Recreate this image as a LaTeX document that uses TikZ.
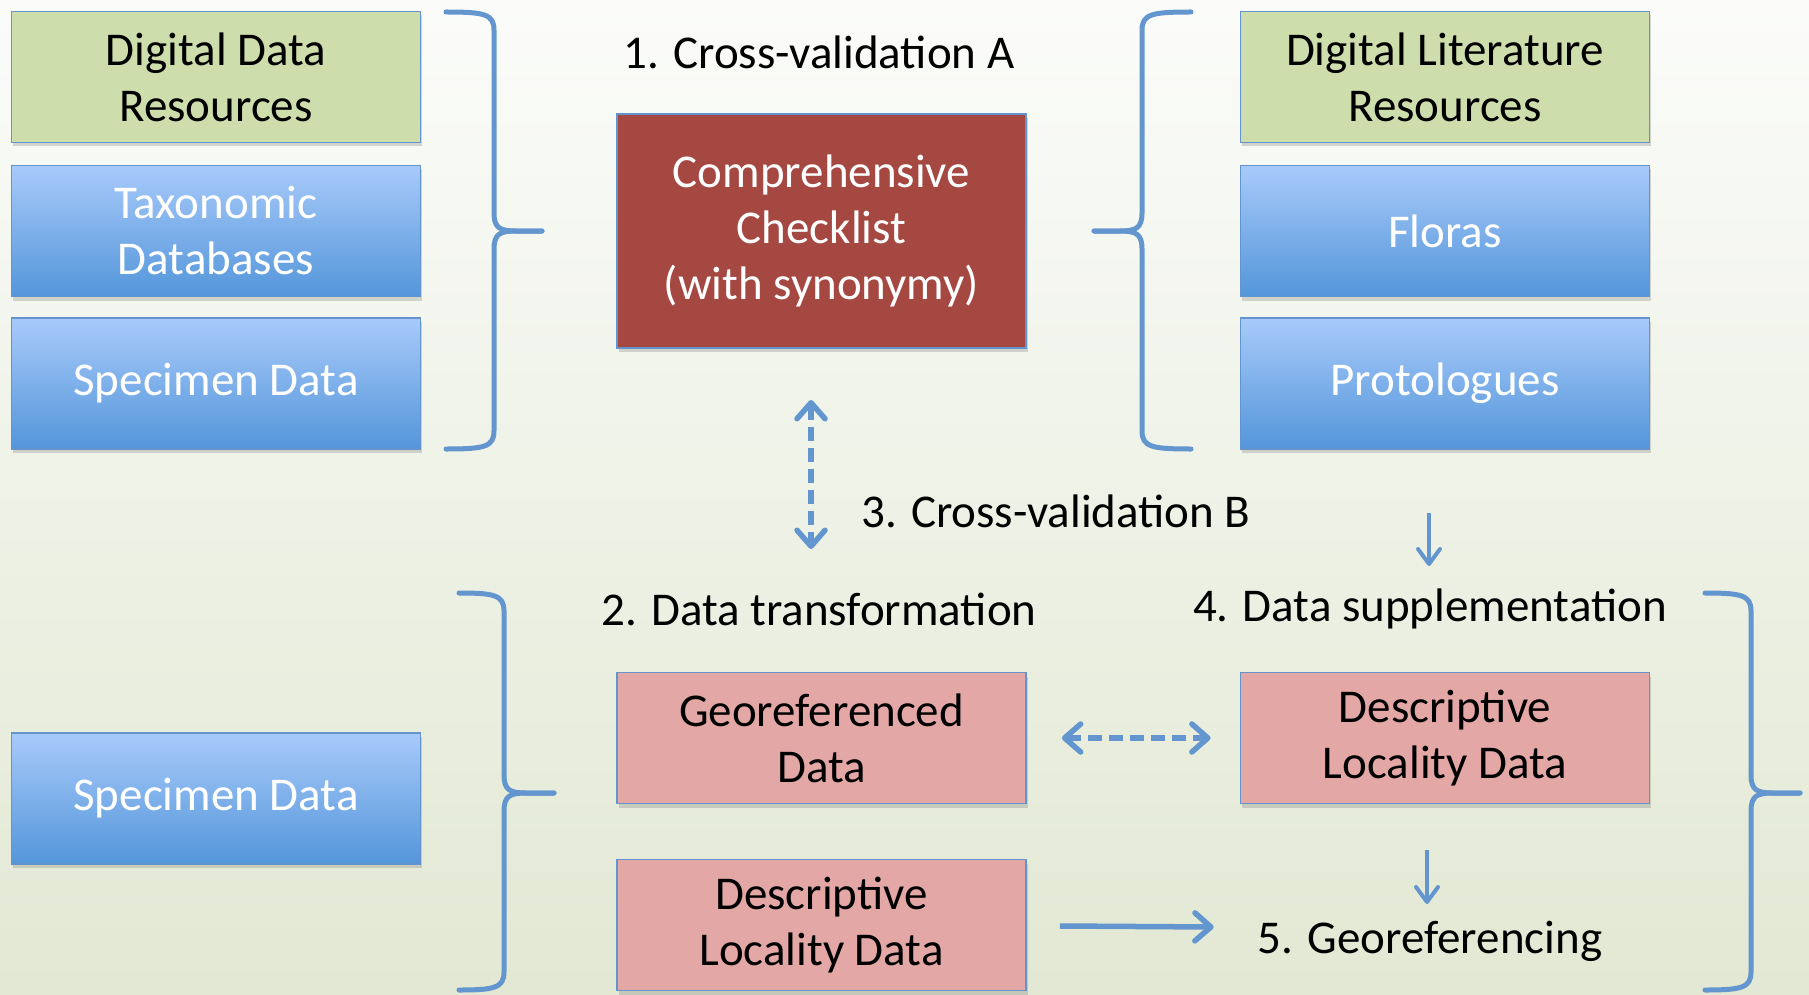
\documentclass[tikz,border=0pt]{standalone}
\usepackage{fontspec}
\setmainfont{Carlito}
\usetikzlibrary{arrows.meta,shadows,calc}
\definecolor{bluetop}{RGB}{168,202,250}
\definecolor{bluebot}{RGB}{84,150,218}
\definecolor{edgec}{RGB}{100,148,206}
\definecolor{greenfill}{RGB}{206,221,172}
\definecolor{redfill}{RGB}{166,72,66}
\definecolor{pinkfill}{RGB}{227,167,166}
\definecolor{bgtop}{RGB}{251,252,250}
\definecolor{bgbot}{RGB}{226,232,211}
\definecolor{linec}{RGB}{99,150,206}
\newcommand\mybrace[7]{%
 \draw[brc] (#1,#4) .. controls (#2-10*#7,#4) and (#2,#4+2) .. (#2,#4+18)
   -- (#2,#5-18) .. controls (#2,#5-3) and (#2+6*#7,#5) .. (#2+22*#7,#5) -- (#3,#5);
 \draw[brc] (#3,#5) -- (#2+22*#7,#5) .. controls (#2+6*#7,#5) and (#2,#5+3) .. (#2,#5+18)
   -- (#2,#6-18) .. controls (#2,#6-2) and (#2-10*#7,#6) .. (#1,#6);
}
\tikzset{
  mybarb/.tip={Straight Barb[length=16pt,width=28pt,line width=5.5pt,line cap=round,line join=round]},
  mythin/.tip={Straight Barb[length=15pt,width=22pt,line width=4pt,line cap=round,line join=round]}
}
\begin{document}
\begin{tikzpicture}[x=1pt,y=-1pt,
  txt/.style={font=\fontsize{47}{56}\selectfont, inner sep=0pt},
  box/.style={txt, draw=edgec, line width=1.8pt, minimum width=409pt, minimum height=131pt,
     align=center, drop shadow={shadow xshift=1.5pt, shadow yshift=-4pt, opacity=0.3}},
  greenbox/.style={box, fill=greenfill, text=black},
  bluebox/.style={box, top color=bluetop, bottom color=bluebot, text=white},
  redbox/.style={box, fill=redfill, text=white, minimum height=234pt},
  pinkbox/.style={box, fill=pinkfill, text=black},
  brc/.style={draw=linec, line width=5pt, line cap=round, line join=round},
  conn/.style={draw=linec, line width=5.5pt},
  dasharr/.style={conn, dash pattern=on 14pt off 7pt, mybarb-mybarb},
  thinarr/.style={draw=linec, line width=4pt, -mythin},
  solidarr/.style={conn, -mybarb}
]
\useasboundingbox (0,0) rectangle (1809,995);
\shade[top color=bgtop, bottom color=bgbot] (0,0) rectangle (1809,995);

% top left column
\node[greenbox] (dd) at (216,77) {Digital Data\\Resources};
\node[bluebox] (tax) at (216,231) {Taxonomic\\Databases};
\node[bluebox] (spec1) at (216,383.5) {Specimen Data};
% checklist
\node[txt] (cva) at (819,52) {1. Cross-validation A};
\node[redbox] (chk) at (821.5,231) {Comprehensive\\Checklist\\(with synonymy)};
% top right column
\node[greenbox] (dl) at (1445,77) {Digital Literature\\Resources};
\node[bluebox] (flo) at (1445,231) {Floras};
\node[bluebox] (pro) at (1445,383.5) {Protologues};
% lower part
\node[txt, anchor=west] (cvb) at (861,511) {3. Cross-validation B};
\node[txt] (dt) at (819,609) {2. Data transformation};
\node[txt] (ds) at (1430,609) {4. Data supplementation};
\node[bluebox] (spec2) at (216,798.5) {Specimen Data};
\node[pinkbox] (geo) at (821.5,738) {Georeferenced\\Data};
\node[pinkbox] (desc1) at (821.5,925) {Descriptive\\Locality Data};
\node[pinkbox] (desc2) at (1445,738) {Descriptive\\Locality Data};
\node[txt] (gr) at (1430,941) {5. Georeferencing};

% braces
\mybrace{446}{494}{542}{12}{231}{449}{1}
\mybrace{1191}{1142}{1094}{12}{231}{449}{-1}
\mybrace{459}{504}{554}{593}{793}{990}{1}
\mybrace{1705}{1751}{1800}{593}{793}{990}{1}

% connectors
\coordinate (va) at (811,400);
\coordinate (vb) at (811,549);
\draw[dasharr] (va) -- (vb);
\coordinate (pa) at (1429,513);
\coordinate (pb) at (1429,566);
\draw[thinarr] (pa) -- (pb);
\draw[dasharr] (geo.east) ++(35,0) coordinate (ha) -- ($(desc2.west)+(-29,0)$) coordinate (hb);
\coordinate (da) at (1427,850);
\coordinate (db) at (1427,904);
\draw[thinarr] (da) -- (db);
\draw[solidarr] ($(desc1.east)+(33,1)$) coordinate (sa) -- ($(gr.west)+(-44,-14)$) coordinate (sb);
\end{tikzpicture}
\end{document}
